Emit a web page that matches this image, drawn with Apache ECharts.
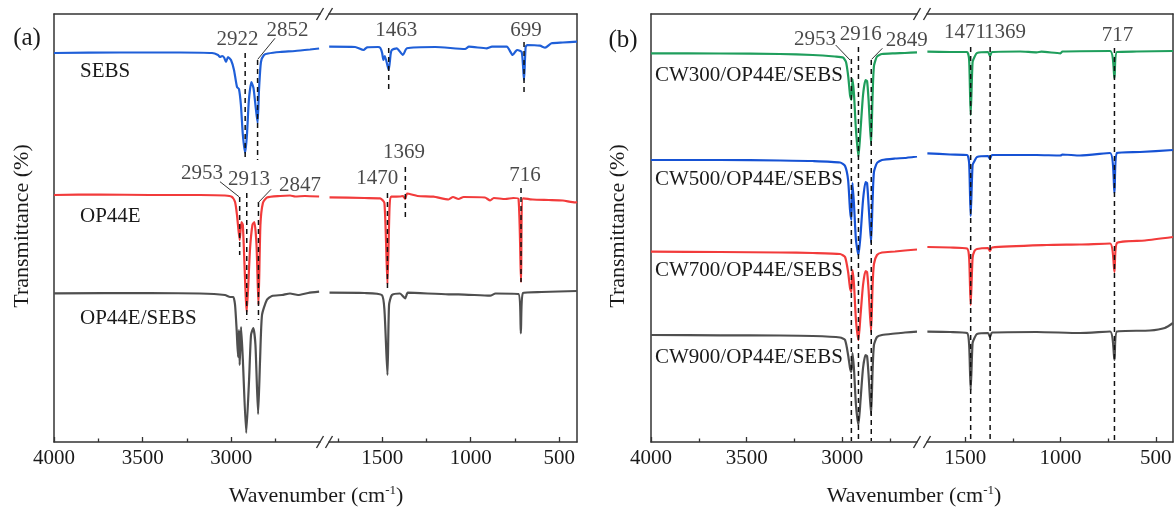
<!DOCTYPE html>
<html><head><meta charset="utf-8">
<script src="https://cdn.jsdelivr.net/npm/echarts@6.0.0/dist/echarts.min.js"></script>
<style>html,body{margin:0;padding:0;background:#fff}#c{width:1174px;height:509px}</style>
</head><body><div id="c"></div>
<script>
// ---------- data: [wavenumber, transmittance (arbitrary, offset)] ----------
const sebs = [[4000,389],[3628,389.5],[3289,389.5],[3109,389],[3075,387],[3064,385],[3052,386],[3041,384.5],[3030,380],[3019,385],[3002,382],[2985,372],[2968,355],[2957,353],[2946,337],[2935,307],[2922,289],[2912,307],[2901,342],[2887,360],[2875,354],[2864,337],[2852,319],[2844,352],[2833,380],[2816,387],[2793,388.5],[2725,390],[2641,391],[2556,392.5],[2505,393.5],
  [1799,395.3],[1652,395],[1605,392],[1585,394.7],[1523,395],[1510,394],[1500,389],[1493,382],[1485,386],[1463,372],[1452,388],[1445,392],[1418,393.7],[1383,387],[1360,393.7],[1200,395],[1032,393],[1010,395.3],[910,393.7],[880,395.3],[797,395.3],[763,387],[745,391],[737,392],[712,390],[699,362],[690,395],[680,397],[609,396.3],[580,394.3],[544,398.7],[480,399.5],[400,400.3]];
const op44e = [[4000,247],[3741,247.5],[3459,247],[3177,247],[3036,246.5],[2996,245],[2979,240],[2968,227],[2953,202],[2943,220],[2935,217],[2913,130],[2895,192],[2881,217],[2870,220],[2858,197],[2847,137],[2836,217],[2822,239],[2799,244.5],[2725,246],[2669,246.5],[2640,245.5],[2585,246],[2505,245.5],
  [1797,244.7],[1600,244],[1511,243.7],[1487,239],[1470,158],[1458,236],[1448,245.3],[1400,245.5],[1382,246],[1370,243],[1359,248.5],[1300,246],[1210,245.3],[1125,242.5],[1100,245],[1069,243],[1040,245],[920,244.5],[890,241.5],[870,244],[805,243],[760,244],[730,243],[716,160],[705,243.7],[650,242.5],[560,242],[480,241.5],[410,239.5],[400,240.3]];
const op44eSebs = [[4000,148.7],[3459,149],[3177,148.5],[3036,147],[3007,145],[2989,145],[2979,137],[2970,112],[2962,85],[2957,112],[2953,77],[2945,115],[2935,82],[2916,9],[2900,62],[2889,107],[2876,114],[2864,97],[2849,28],[2838,82],[2827,127],[2800,142],[2771,146],[2714,147],[2669,148.5],[2624,147],[2567,149],[2505,150.3],
  [1797,149.3],[1600,149],[1502,147],[1487,132],[1470,67],[1461,137],[1445,147],[1400,148.5],[1370,143.7],[1355,149.3],[1125,147.7],[1069,147.7],[890,146.3],[860,148.5],[730,148],[717,108.7],[705,149],[600,150],[400,151]];
const cw300 = [[4000,388.7],[3639,388.5],[3326,388],[3154,387],[3039,385.5],[2997,384.5],[2981,380],[2969,365],[2960,347],[2953,342],[2947,363],[2939,347],[2929,312],[2916,285],[2905,312],[2892,347],[2879,362],[2871,361],[2863,342],[2850,297],[2842,347],[2835,376],[2819,385.5],[2793,388],[2725,388.7],[2673,389],[2610,389.7],
  [1698,390.3],[1579,390],[1490,390],[1479,382],[1471,327],[1461,380],[1451,385],[1438,389],[1380,390],[1370,386],[1359,390],[1212,390.5],[1125,389.7],[1100,390.3],[1000,388.7],[990,390.5],[740,391],[717,363.7],[704,390],[600,390.5],[410,391]];
const cw500 = [[4000,282],[3639,282],[3326,281.5],[3154,281],[3012,279.5],[2986,276],[2970,262],[2960,232],[2953,222],[2947,259],[2939,237],[2929,202],[2916,187],[2905,207],[2892,242],[2879,260],[2871,259],[2863,237],[2850,199],[2842,242],[2835,270],[2819,279],[2793,282],[2725,283.5],[2673,284],[2610,285.5],
  [1698,288.7],[1579,287.5],[1490,287],[1479,279],[1471,226],[1461,277],[1451,281],[1438,285],[1380,286],[1370,283],[1359,287],[1125,287],[1000,286.5],[990,287.5],[898,286.5],[740,289],[717,249],[704,289],[583,290],[410,292]];
const cw700 = [[4000,190.3],[3639,190],[3326,189.5],[3154,189],[3012,188],[2986,185],[2970,170],[2960,154],[2953,150],[2947,172],[2939,157],[2929,122],[2916,102],[2905,127],[2892,157],[2879,171],[2871,170],[2863,152],[2850,110],[2842,157],[2835,178],[2819,187],[2793,189.5],[2725,190.5],[2673,191.5],[2610,192.5],
  [1698,195],[1579,194.5],[1490,193.5],[1479,184],[1471,137],[1461,184],[1451,191],[1438,193],[1380,194],[1370,191],[1359,194.5],[1072,197],[898,197.5],[740,198.5],[717,170],[704,199],[557,201.5],[410,205]];
const cw900 = [[4000,107],[3639,106.7],[3326,106.5],[3154,106],[3012,104.5],[2986,102],[2970,87],[2960,74],[2953,70],[2947,89],[2939,72],[2929,37],[2916,17],[2905,42],[2892,74],[2879,87],[2871,86],[2863,67],[2850,27],[2842,72],[2835,97],[2819,105],[2793,107],[2725,108.5],[2673,109.5],[2610,110.3],
  [1698,110.3],[1579,110],[1490,109],[1479,97],[1471,52],[1461,99],[1451,104],[1438,108],[1380,109],[1370,105],[1359,109.5],[1125,110],[898,109],[740,110.5],[717,82],[704,110.5],[531,111.5],[453,114],[410,119]];

// tick labels
const majorTicks = [4000,3500,3000,1500,1000,500];
const minorTicks = [3750,3250,2750,1750,1250,750];
// peak markers: [wavenumber, from, to]
const markA = [[2922,389,282],[2852,382,282],[2953,245,187],[2913,249,122],[2847,240,122],[1463,394,349],[699,400,350],[1470,249,154],[1369,275,225],[716,254,160]];
const markB = [[2953,383,1],[2916,395,1],[2849,382,1],[1471,395,1],[1369,395,1],[717,394,1]];
// leader lines: [w1,v1,w2,v2]
const leadA = [[2754,403.7,2851,382.7],[3064,260.3,2957,245.3],[2776,252.7,2848,239.3]];
const leadB = [[3035,397,2960,382],[2791,393.7,2847,382.7]];
// peak labels: [text, w, v]
const labA = [['2922',2965,403],['2852',2683,411.5],['2953',3165,268.5],['2913',2900,262.5],['2847',2613,257],['1463',1421,412],['699',688,412],['1369',1376,290],['1470',1528,263.5],['716',693,267]];
const labB = [['2953',3143,402.5],['2916',2904,408],['2849',2664,401.5],['1471',1501,409.5],['1369',1291,409.5],['717',701,406.5]];

const FONT = '"Liberation Serif","Times New Roman",serif';
const TXT = '#1a1a1a', AX = '#333';
const TOP = 14, H = 428, YMAX = 428;
const layout = [
  {left:54,  width:266, seg:[2500,4000]},
  {left:329, width:248, seg:[400,1800]},
  {left:651, width:266, seg:[2610,4000]},
  {left:927, width:246, seg:[410,1700]}
];
const inSeg = (w, seg) => w >= seg[0]-1 && w <= seg[1]+1;

const grid = layout.map(l => ({left:l.left, top:TOP, width:l.width, height:H, outerBoundsMode:'none', containLabel:false}));
const xAxis = [], yAxis = [];
layout.forEach((l, i) => {
  const base = {type:'value', gridIndex:i, min:l.seg[0], max:l.seg[1], inverse:true, splitLine:{show:false}};
  xAxis.push(Object.assign({}, base, {position:'bottom',
    axisLine:{show:true, onZero:false, lineStyle:{color:AX, width:1.5}},
    axisTick:{show:true, inside:true, length:5, lineStyle:{color:AX, width:1.3}, customValues:majorTicks.filter(t=>inSeg(t,l.seg))},
    axisLabel:{show:true, margin:6, color:TXT, fontSize:21, fontFamily:FONT, formatter:v => String(v), customValues:majorTicks.filter(t=>inSeg(t,l.seg))}}));
  xAxis.push(Object.assign({}, base, {position:'bottom',
    axisLine:{show:false, onZero:false},
    axisTick:{show:true, inside:true, length:3.5, lineStyle:{color:AX, width:1.3}, customValues:minorTicks.filter(t=>inSeg(t,l.seg))},
    axisLabel:{show:false}}));
  xAxis.push(Object.assign({}, base, {position:'top',
    axisLine:{show:true, onZero:false, lineStyle:{color:AX, width:1.5}},
    axisTick:{show:false}, axisLabel:{show:false}}));
  yAxis.push({type:'value', gridIndex:i, min:0, max:YMAX, position:(i%2===0?'left':'right'),
    axisLine:{show:true, onZero:false, lineStyle:{color:AX, width:1.5}},
    axisTick:{show:false}, axisLabel:{show:false}, splitLine:{show:false}});
});

const series = [];
function spectrum(name, arr, color, panel) {
  [0,1].forEach(k => {
    const gi = panel*2 + k;
    series.push({type:'line', name, xAxisIndex:gi*3, yAxisIndex:gi, silent:true,
      data:arr.filter(p => inSeg(p[0], layout[gi].seg)),
      showSymbol:false, symbol:'none', smooth:0.2, z:2,
      lineStyle:{color, width:2.2}});
  });
}
spectrum('SEBS', sebs, '#1f5fd8', 0);
spectrum('OP44E', op44e, '#f23b3b', 0);
spectrum('OP44E/SEBS', op44eSebs, '#4f4f4f', 0);
spectrum('CW300/OP44E/SEBS', cw300, '#1f9e5c', 1);
spectrum('CW500/OP44E/SEBS', cw500, '#1652d4', 1);
spectrum('CW700/OP44E/SEBS', cw700, '#f23b3b', 1);
spectrum('CW900/OP44E/SEBS', cw900, '#4f4f4f', 1);

function gridOf(panel, w) { return panel*2 + (w > 2200 ? 0 : 1); }
function markers(list, panel) {
  list.forEach(m => {
    const gi = gridOf(panel, m[0]);
    series.push({type:'line', xAxisIndex:gi*3, yAxisIndex:gi, silent:true, symbol:'none', z:5,
      data:[[m[0],m[1]],[m[0],m[2]]], lineStyle:{color:'#111', width:1.5, type:[5,4]}});
  });
}
markers(markA, 0); markers(markB, 1);
function leaders(list, panel) {
  list.forEach(m => {
    const gi = gridOf(panel, m[2]);
    series.push({type:'line', xAxisIndex:gi*3, yAxisIndex:gi, silent:true, symbol:'none', z:5, clip:false,
      data:[[m[0],m[1]],[m[2],m[3]]], lineStyle:{color:'#333', width:1}});
  });
}
leaders(leadA, 0); leaders(leadB, 1);
function peakLabels(list, panel) {
  [0,1].forEach(k => {
    const gi = panel*2 + k;
    const d = list.filter(p => inSeg(p[1], layout[gi].seg)).map(p => ({name:p[0], value:[p[1], p[2]]}));
    series.push({type:'scatter', xAxisIndex:gi*3, yAxisIndex:gi, silent:true, clip:false, z:6,
      symbolSize:1, itemStyle:{color:'rgba(0,0,0,0)'}, data:d,
      label:{show:true, position:'inside', formatter:'{b}', color:TXT, fontSize:21, fontFamily:FONT}});
  });
}
peakLabels(labA, 0); peakLabels(labB, 1);

// ---------- decorations ----------
const graphic = [];
function txt(text, x, y, size, extra) {
  graphic.push(Object.assign({type:'text', x, y, silent:true,
    style:{text, fill:TXT, fontSize:size, fontFamily:FONT, align:'center', verticalAlign:'middle'}}, extra||{}));
}
function ltxt(text, x, y) {
  graphic.push({type:'text', x, y, silent:true,
    style:{text, fill:TXT, fontSize:21, fontFamily:FONT, align:'left', verticalAlign:'middle'}});
}
txt('(a)', 27, 38, 25); txt('(b)', 623, 40, 25);
txt('Transmittance (%)', 22, 226, 22, {rotation:Math.PI/2});
txt('Transmittance (%)', 618, 226, 22, {rotation:Math.PI/2});
[[316,496],[914,496]].forEach(p => {
  graphic.push({type:'text', x:p[0], y:p[1], silent:true,
    style:{text:'{a|Wavenumber (cm}{b|-1}{a|)}', align:'center', verticalAlign:'middle', fill:TXT,
      rich:{a:{fontSize:22, fontFamily:FONT, fill:TXT, lineHeight:24}, b:{fontSize:13, fontFamily:FONT, fill:TXT, verticalAlign:'top', lineHeight:24, padding:[0,0,10,0]}}}});
});
ltxt('SEBS', 80, 71); ltxt('OP44E', 80, 216); ltxt('OP44E/SEBS', 80, 318);
ltxt('CW300/OP44E/SEBS', 655, 75); ltxt('CW500/OP44E/SEBS', 655, 179);
ltxt('CW700/OP44E/SEBS', 655, 270); ltxt('CW900/OP44E/SEBS', 655, 357);
// axis break marks
[[0,1],[2,3]].forEach(pair => {
  const xa = layout[pair[0]].left + layout[pair[0]].width;
  const xb = layout[pair[1]].left;
  [TOP, TOP+H].forEach(y => {
    [xa, xb].forEach(x => {
      graphic.push({type:'line', silent:true, shape:{x1:x-3.5, y1:y+6, x2:x+3.5, y2:y-6}, style:{stroke:AX, lineWidth:1.4}});
    });
  });
});

const chart = echarts.init(document.getElementById('c'), null, {renderer:'canvas'});
chart.setOption({animation:false, backgroundColor:'#fff', grid, xAxis, yAxis, series, graphic});
</script></body></html>
